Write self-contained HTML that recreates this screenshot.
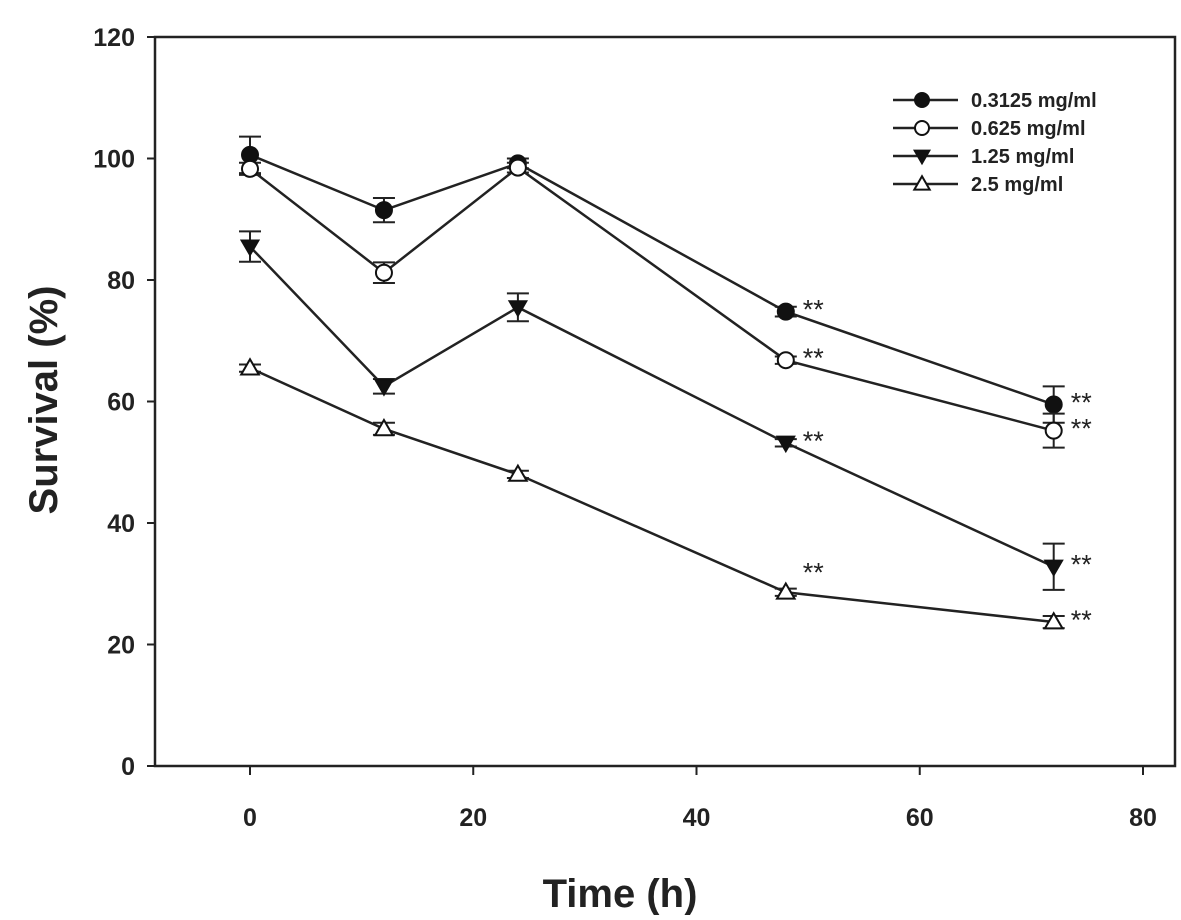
<!DOCTYPE html>
<html><head><meta charset="utf-8"><style>
body{margin:0;background:#fff;}
svg text{font-family:"Liberation Sans",sans-serif;font-weight:bold;fill:#222;}
</style></head><body>
<svg id="chart" width="1181" height="915" xmlns="http://www.w3.org/2000/svg">
<g id="axes"></g><g id="marks"></g><g id="legend"></g>
</svg>
<script>
const times=[0,12,24,48,72];
const s1=[100.6,91.5,99.2,74.8,59.5];
const e1=[3,2,0.8,0.8,3];
const s2=[98.3,81.2,98.5,66.8,55.2];
const e2=[1,1.7,0.8,0.6,2.8];
const s3=[85.5,62.5,75.5,53.2,32.8];
const e3=[2.5,1.2,2.3,0.6,3.8];
const s4=[65.5,55.5,48,28.6,23.7];
const e4=[0.6,1,0.6,0.6,1];
const seriesNames=["0.3125 mg/ml","0.625 mg/ml","1.25 mg/ml","2.5 mg/ml"];
const xTicks=[0,20,40,60,80];
const yTicks=[0,20,40,60,80,100,120];
const starIdx=[3,4];

const NS="http://www.w3.org/2000/svg";
const L=155,R=1175,T=37,B=766;
const x=v=>250+(v)*(1143-250)/80;
const y=v=>B-v*(B-T)/120;
function mk(tag,attrs,parent,txt){const e=document.createElementNS(NS,tag);for(const k in attrs)e.setAttribute(k,attrs[k]);if(txt!==undefined)e.textContent=txt;parent.appendChild(e);return e;}
const axes=document.getElementById('axes'),marks=document.getElementById('marks'),leg=document.getElementById('legend');
let f=mk('rect',{x:L,y:T,width:R-L,height:B-T,fill:'none',stroke:'#222','stroke-width':2.5},axes);


yTicks.forEach(v=>{
 let l=mk('line',{x1:L-8,x2:L,y1:y(v),y2:y(v),stroke:'#222','stroke-width':2},axes);
 
 
 let t=mk('text',{x:L-20,y:y(v)+9,'text-anchor':'end','font-size':25},axes,v);
 
 
});
xTicks.forEach(v=>{
 let l=mk('line',{x1:x(v),x2:x(v),y1:B,y2:B+9,stroke:'#222','stroke-width':2},axes);
 
 
 let t=mk('text',{x:x(v),y:826,'text-anchor':'middle','font-size':25},axes,v);
 
 
});
let xt=mk('text',{x:620,y:907,'text-anchor':'middle','font-size':40},axes,'Time (h)');


let yt=mk('text',{x:0,y:0,'text-anchor':'middle','font-size':40,transform:'translate(57,400) rotate(-90)'},axes,'Survival  (%)');



function marker(kind,cx,cy,p,s){
 let e;
 if(kind==0) e=mk('circle',{cx,cy,r:s,fill:'#111',stroke:'#111','stroke-width':2},p);
 else if(kind==1) e=mk('circle',{cx,cy,r:s,fill:'#fff',stroke:'#111','stroke-width':2},p);
 else if(kind==2) e=mk('polygon',{points:`${cx-s*1.1},${cy-s*0.8} ${cx+s*1.1},${cy-s*0.8} ${cx},${cy+s*1.1}`,fill:'#111',stroke:'#111','stroke-width':1.5},p);
 else e=mk('polygon',{points:`${cx-s*1.1},${cy+s*0.8} ${cx+s*1.1},${cy+s*0.8} ${cx},${cy-s*1.1}`,fill:'#fff',stroke:'#111','stroke-width':2},p);
 return e;
}
const all=[[s1,e1],[s2,e2],[s3,e3],[s4,e4]];
all.forEach(([s,e],k)=>{
 const g=mk('g',{},marks);
 
 
 let pl=mk('polyline',{points:times.map((t,i)=>x(t)+','+y(s[i])).join(' '),fill:'none',stroke:'#222','stroke-width':2.5},g);
 
 
 times.forEach((t,i)=>{
  const cx=x(t),y1=y(s[i]+e[i]),y2=y(s[i]-e[i]);
  let eb=mk('path',{d:`M${cx},${y1}V${y2}M${cx-11},${y1}H${cx+11}M${cx-11},${y2}H${cx+11}`,stroke:'#222','stroke-width':2,fill:'none'},g);
  
  
  let m=marker(k,cx,y(s[i]),g,8);
  
  
 });
 starIdx.forEach(i=>{
  const off=(i==3 && k==3)?-18:0;
  let st=mk('text',{x:x(times[i])+17,y:y(s[i])+7+off,'font-size':27,style:'font-weight:normal'},g,'**');
  
  
 });
});
seriesNames.forEach((n,k)=>{
 const yy=100+k*28;
 const g=mk('g',{},leg);
 
 
 mk('line',{x1:893,x2:958,y1:yy,y2:yy,stroke:'#222','stroke-width':2.5},g);
 marker(k,922,yy,g,7);
 mk('text',{x:971,y:yy+7,'font-size':20},g,n);
});
</script>
</body></html>
